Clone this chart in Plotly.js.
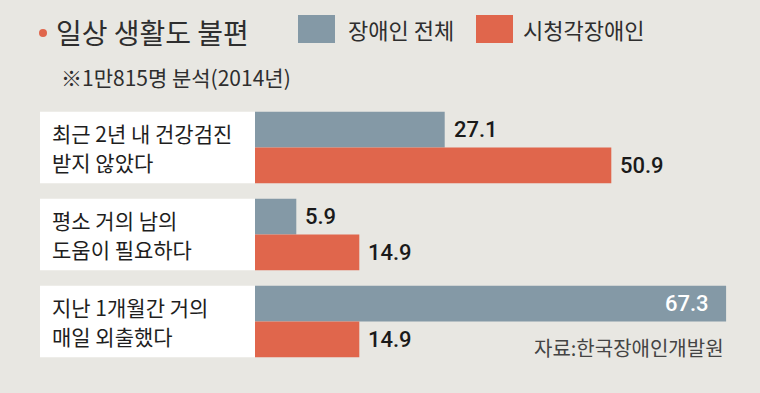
<!DOCTYPE html>
<html>
<head>
<meta charset="utf-8">
<script src="https://cdn.plot.ly/plotly-3.0.1.min.js"></script>
<style>html,body{margin:0;padding:0;background:#e8e7e2;}#chart{width:760px;height:393px;}</style>
</head>
<body>
<div id="chart"></div>
<script>
// ---- data ----
const catLine1 = ['최근 2년 내 건강검진', '평소 거의 남의', '지난 1개월간 거의'];
const catLine2 = ['받지 않았다', '도움이 필요하다', '매일 외출했다'];
const categories = catLine1.map((l, i) => l + ' ' + catLine2[i]);
const seriesNames = ['장애인 전체', '시청각장애인'];
const allDisabled = [27.1, 5.9, 67.3];
const sensoryDisabled = [50.9, 14.9, 14.9];
const titleText = '일상 생활도 불편';
const subtitleText = '※1만815명 분석(2014년)';
const sourceText = '자료:한국장애인개발원';

// ---- style ----
const BG = '#e8e7e2';
const BLUE = '#8499a6';
const RED = '#e0664c';
const KFONT = '"Noto Sans CJK KR", "Noto Sans", sans-serif';
const NFONT = 'Roboto, "Liberation Sans", sans-serif';

const W = 760, H = 393;
const L = 255, R = 0, T = 104, B = 28;
const PW = W - L - R, PH = H - T - B;
const px2x = p => (p - L) / PW;
const px2y = p => (H - B - p) / PH;
const idx = categories.map((c, i) => i);

const traces = [
  {type: 'bar', orientation: 'h', name: seriesNames[0], y: idx, x: allDisabled,
   marker: {color: BLUE, line: {width: 0}}, hoverinfo: 'none'},
  {type: 'bar', orientation: 'h', name: seriesNames[1], y: idx, x: sensoryDisabled,
   marker: {color: RED, line: {width: 0}}, hoverinfo: 'none'}
];

const shapes = [];
const annotations = [];

// white label boxes
idx.forEach(i => {
  shapes.push({type: 'rect', xref: 'paper', yref: 'y', x0: px2x(40), x1: 0,
    y0: i - 0.41, y1: i + 0.41, fillcolor: '#ffffff', line: {width: 0}, layer: 'below'});
  annotations.push({xref: 'paper', yref: 'y', x: px2x(50), y: i, yshift: 14.5,
    xanchor: 'left', yanchor: 'middle', showarrow: false, text: catLine1[i],
    font: {family: KFONT, size: 21, color: '#1e1e1e'}});
  annotations.push({xref: 'paper', yref: 'y', x: px2x(50), y: i, yshift: -14.5,
    xanchor: 'left', yanchor: 'middle', showarrow: false, text: catLine2[i],
    font: {family: KFONT, size: 21, color: '#1e1e1e'}});
});

// value labels
const off = 0.205;
[allDisabled, sensoryDisabled].forEach((vals, s) => {
  vals.forEach((v, i) => {
    const inside = v > 60;
    annotations.push({xref: 'x', yref: 'y', x: v, y: i + (s === 0 ? -off : off),
      xanchor: inside ? 'right' : 'left', yanchor: 'middle',
      xshift: inside ? -15 : 7, showarrow: false, text: v.toFixed(1),
      font: {family: NFONT, size: 22, color: inside ? '#ffffff' : '#1a1a1a', weight: 500}});
  });
});

// title dot
shapes.push({type: 'circle', xref: 'paper', yref: 'paper', x0: px2x(39), x1: px2x(47),
  y0: px2y(37), y1: px2y(29), fillcolor: RED, line: {width: 0}});
// title
annotations.push({xref: 'paper', yref: 'paper', x: px2x(54), y: px2y(32), xanchor: 'left', yanchor: 'middle',
  showarrow: false, text: titleText, font: {family: KFONT, size: 28, color: '#2e2e2e'}});
// subtitle
annotations.push({xref: 'paper', yref: 'paper', x: px2x(59), y: px2y(77), xanchor: 'left', yanchor: 'middle',
  showarrow: false, text: subtitleText, font: {family: KFONT, size: 21, color: '#2e2e2e'}});

// legend
const legendPos = [[298, 346], [476, 521]];
[BLUE, RED].forEach((c, s) => {
  const [bx, tx] = legendPos[s];
  shapes.push({type: 'rect', xref: 'paper', yref: 'paper', x0: px2x(bx), x1: px2x(bx + 37),
    y0: px2y(43), y1: px2y(15), fillcolor: c, line: {width: 0}});
  annotations.push({xref: 'paper', yref: 'paper', x: px2x(tx), y: px2y(29), xanchor: 'left', yanchor: 'middle',
    showarrow: false, text: seriesNames[s], font: {family: KFONT, size: 22, color: '#2e2e2e'}});
});

// source
annotations.push({xref: 'paper', yref: 'paper', x: px2x(726), y: px2y(347), xanchor: 'right', yanchor: 'middle',
  showarrow: false, text: sourceText, font: {family: KFONT, size: 20, color: '#444'}});

const layout = {
  width: W, height: H,
  margin: {l: L, r: R, t: T, b: B, pad: 0},
  paper_bgcolor: BG, plot_bgcolor: BG,
  barmode: 'group', bargap: 0.18, bargroupgap: 0,
  showlegend: false,
  xaxis: {range: [0, PW / 7], showgrid: false, zeroline: false, showticklabels: false, showline: false, fixedrange: true},
  yaxis: {range: [2.5, -0.5], showgrid: false, zeroline: false, showticklabels: false, showline: false, fixedrange: true},
  shapes: shapes,
  annotations: annotations
};

Plotly.newPlot('chart', traces, layout, {displayModeBar: false, staticPlot: true});
</script>
</body>
</html>
